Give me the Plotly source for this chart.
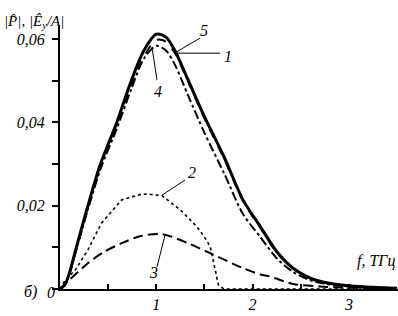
import plotly.graph_objects as go

# ---- data ----
f_grid = [0, 0.05, 0.1, 0.17, 0.29, 0.42, 0.59, 0.74, 0.87, 1.0, 1.1, 1.19,
          1.33, 1.5, 1.71, 1.9, 2.08, 2.25, 2.42, 2.6, 2.77, 3.0, 3.25, 3.5]
v_1 = [0, 0.001, 0.004, 0.010, 0.020, 0.030, 0.040, 0.050, 0.0572, 0.0612, 0.0605, 0.0574,
       0.0502, 0.0414, 0.0314, 0.0214, 0.015, 0.009, 0.005, 0.0026, 0.0015, 0.0008, 0.0004, 0.0002]
v_5 = [0, 0.001, 0.0038, 0.0095, 0.0193, 0.029, 0.0388, 0.0487, 0.0558, 0.0598, 0.0594, 0.0568,
       0.0498, 0.041, 0.031, 0.0211, 0.0147, 0.0088, 0.0049, 0.0025, 0.0014, 0.0008, 0.0004, 0.0002]
v_4 = [0, 0.001, 0.0038, 0.0095, 0.0192, 0.0288, 0.0385, 0.048, 0.0553, 0.0584, 0.0573, 0.054,
       0.0465, 0.0375, 0.0275, 0.018, 0.0125, 0.0074, 0.0041, 0.0021, 0.0012, 0.0006, 0.0003, 0.0001]

f_2 = [0, 0.05, 0.16, 0.29, 0.43, 0.64, 0.85, 0.95, 1.06, 1.25, 1.42, 1.5, 1.56, 1.6, 1.645, 1.7,
       2.0, 2.5, 3.0, 3.5]
v_2 = [0, 0.002, 0.0046, 0.0094, 0.0158, 0.0214, 0.0228, 0.0227, 0.0224, 0.019, 0.015, 0.0125,
       0.0102, 0.0062, 0.001, 0, 0, 0, 0, 0]

f_3 = [0, 0.09, 0.29, 0.45, 0.64, 0.85, 1.05, 1.14, 1.35, 1.56, 1.9, 2.08, 2.18, 2.42, 2.7,
       3.0, 3.5]
v_3 = [0, 0.002, 0.0062, 0.0088, 0.011, 0.0128, 0.0132, 0.0127, 0.0108, 0.0086, 0.005, 0.0035,
       0.003, 0.0012, 0.0006, 0.0003, 0.0001]

x_ticks = [1, 2, 3]
y_ticks = [0.02, 0.04, 0.06]

FONT = "Liberation Serif, Times New Roman, serif"

fig = go.Figure()
fig.add_trace(go.Scatter(x=f_grid, y=v_4, mode="lines", line=dict(color="black", width=2, dash="dashdot", shape="spline", smoothing=0.8)))
fig.add_trace(go.Scatter(x=f_grid, y=v_5, mode="lines", line=dict(color="black", width=2, dash="dash", shape="spline", smoothing=0.8)))
fig.add_trace(go.Scatter(x=f_grid, y=v_1, mode="lines", line=dict(color="black", width=3, shape="spline", smoothing=0.8)))
fig.add_trace(go.Scatter(x=f_2, y=v_2, mode="lines", line=dict(color="black", width=1.6, dash="dot")))
fig.add_trace(go.Scatter(x=f_3, y=v_3, mode="lines", line=dict(color="black", width=2, dash="10px,5px", shape="spline", smoothing=0.8)))

tf = dict(family=FONT, size=16, color="black", style="italic")

fig.update_layout(
    width=398, height=316,
    margin=dict(l=60, r=0, t=25, b=27),
    paper_bgcolor="white", plot_bgcolor="white",
    showlegend=False,
    separators=",.",
    font=dict(family=FONT),
    xaxis=dict(range=[0, 3.51], showgrid=False, zeroline=False,
               showline=True, linecolor="black", linewidth=2,
               tickvals=x_ticks, ticks="inside", ticklen=5, tickwidth=1.5, tickcolor="black",
               minor=dict(dtick=0.5, tick0=0, ticks="inside", ticklen=5, tickwidth=1.5, tickcolor="black"),
               tickfont=tf, ticklabelstandoff=0),
    yaxis=dict(range=[0, 0.0634], showgrid=False, zeroline=False,
               showline=True, linecolor="black", linewidth=2,
               tickvals=y_ticks, tickformat=".2f", ticks="outside", ticklen=6, tickwidth=1.5, tickcolor="black",
               minor=dict(dtick=0.01, tick0=0, ticks="outside", ticklen=6, tickwidth=1.5, tickcolor="black"),
               tickfont=tf, ticklabelstandoff=4),
)

def px2d(px, py):
    return (px - 60) / 96.3, (289 - py) / 4167

leaders = [((176, 52), (200, 38), "5", (204, 30)),
           ((177, 53), (220, 53), "1", (228, 56)),
           ((152, 47), (157, 80), "4", (158, 91)),
           ((162, 195), (185, 180), "2", (192, 172)),
           ((165, 235), (157, 267), "3", (153, 272))]
for p0, p1, lab, pt in leaders:
    x0, y0 = px2d(*p0)
    x1, y1 = px2d(*p1)
    fig.add_shape(type="line", xref="x", yref="y", x0=x0, y0=y0, x1=x1, y1=y1,
                  line=dict(color="black", width=1))
    tx, ty = px2d(*pt)
    fig.add_annotation(x=tx, y=ty, xref="x", yref="y", text=lab, showarrow=False, font=tf)

def paper(px, py):
    return (px - 60) / 338, (289 - py) / 264

ax, ay = paper(397, 272)
fig.add_annotation(x=ax, y=ay, xref="paper", yref="paper", text="f, ТГц", showarrow=False,
                   xanchor="right", font=tf)
bx, by = paper(22, 303)
fig.add_annotation(x=bx, y=by, xref="paper", yref="paper", text="б)", showarrow=False, font=tf)
zx, zy = paper(45, 303)
fig.add_annotation(x=zx, y=zy, xref="paper", yref="paper", text="0", showarrow=False, font=tf)
hx, hy = paper(2, 11)
fig.add_annotation(x=hx, y=hy, xref="paper", yref="paper",
                   text="|P\u0302|, |E\u0302<sub>y</sub>/A|", showarrow=False,
                   xanchor="left", font=dict(family=FONT, size=15, color="black", style="italic"))

fig.write_html("out.html", config={"displayModeBar": False},
               post_script="document.body.style.margin='0';document.body.style.padding='0';")
